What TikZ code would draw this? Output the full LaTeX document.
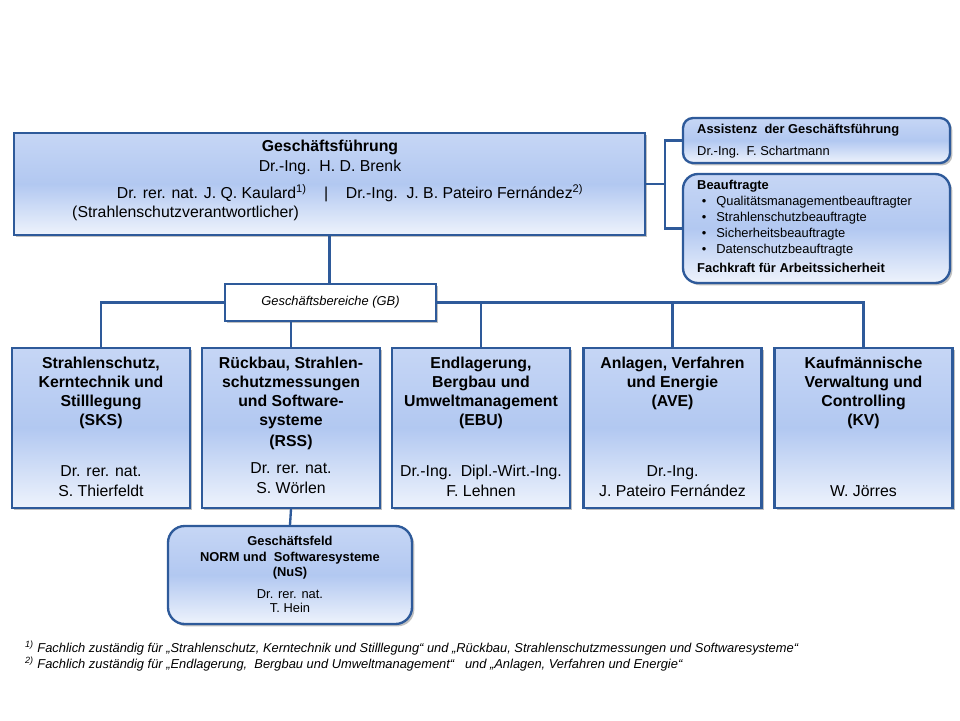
\documentclass[tikz,border=0pt]{standalone}
\usepackage{fontspec}
\setmainfont{Liberation Sans}
\usetikzlibrary{positioning, shadows}

\definecolor{gfline}{HTML}{2E5A9A}
\definecolor{gftop}{HTML}{C6D6F5}
\definecolor{gfmid}{HTML}{B2C8F1}
\definecolor{gfbot}{HTML}{EEF3FC}

\begin{document}
\begin{tikzpicture}[x=0.03cm, y=-0.03cm]
	\tikzset{box/.style={draw=gfline, line width=2pt, top color=gftop, bottom color=gfbot, middle color=gfmid,
			drop shadow={shadow xshift=2pt, shadow yshift=-2pt, fill=black!45, opacity=.55}, inner sep=0pt},
		unit/.style={box, minimum width=5.34cm, minimum height=4.8cm},
		link/.style={draw=gfline, line width=2pt},
		title/.style={anchor=north, align=center, inner sep=0pt, font=\bfseries\fontsize{13.5}{16.2}\selectfont},
		names/.style={anchor=north, align=center, inner sep=0pt, font=\fontsize{13.5}{17}\selectfont},
		small/.style={inner sep=0pt, align=left, font=\fontsize{11}{13.6}\selectfont} }

	\useasboundingbox (0,0) rectangle (960,720);

	% Geschaeftsfuehrung
	\node[box, minimum width=18.93cm, minimum height=3.06cm] (gf) at (329.5,184) {};
	\node[title, anchor=center] (gf-title) at (330,147) {Geschäftsführung};
	\node[names, anchor=center] (gf-head) at (330,167) {Dr.-Ing.~~H. D. Brenk};
	\node[names, anchor=center] (gf-deputy) at (350,193) {Dr. rer. nat. J. Q. Kaulard\textsuperscript{1)}~~~~|~~~~Dr.-Ing.~~J. B. Pateiro Fernández\textsuperscript{2)}};
	\node[names, anchor=west] (gf-note) at (72,213) {(Strahlenschutzverantwortlicher)};

	\node[box, rounded corners=0.3cm, minimum width=8.01cm, minimum height=1.35cm] (assist) at (816.5,140.5) {};
	\node[small, anchor=west] (assist-title) at (697,130) {\textbf{Assistenz~~der Geschäftsführung}};
	\node[small, anchor=west] (assist-name) at (697,152) {Dr.-Ing.~~F. Schartmann};

	\node[box, rounded corners=0.45cm, minimum width=8.01cm, minimum height=3.27cm] (beauf) at (816.5,228.5) {};
	\node[small, anchor=north west] (beauf-list) at (697,180) {\textbf{Beauftragte}\\
		\hspace*{4pt}\textbullet\hspace{8.5pt}Qualitätsmanagementbeauftragter\\
		\hspace*{4pt}\textbullet\hspace{8.5pt}Strahlenschutzbeauftragte\\
		\hspace*{4pt}\textbullet\hspace{8.5pt}Sicherheitsbeauftragte\\
		\hspace*{4pt}\textbullet\hspace{8.5pt}Datenschutzbeauftragte\\[3pt]
		\textbf{Fachkraft für Arbeitssicherheit}};

	\coordinate (hub) at (665,184);
	\draw[link] (gf.east) -- (hub);
	\draw[link] (assist.west) -| (hub) |- (beauf.west);

	% Geschaeftsbereiche
	\node[box, fill=white, top color=white, bottom color=white, middle color=white, minimum width=6.33cm, minimum height=1.11cm] (gb) at (330.5,302.5) {};
	\node[inner sep=0pt, font=\itshape\fontsize{11}{12}\selectfont] (gb-text) at (330.5,302.5) {Geschäftsbereiche (GB)};
	\draw[link] (gf.south) -- (gf.south |- gb.north);

	\node[unit] (sks) at (101,428) {};
	\node[unit] (rss) at (291,428) {};
	\node[unit] (ebu) at (481,428) {};
	\node[unit] (ave) at (672.5,428) {};
	\node[unit] (kv) at (863.5,428) {};

	\draw[link] (gb.west) -| (sks.north);
	\draw[link] (gb.east) -| (kv.north);
	\draw[link] (rss.north |- gb.south) -- (rss.north);
	\draw[link] (ebu.north) -- (ebu.north |- gb.east);
	\draw[link] (ave.north) -- (ave.north |- gb.east);

	\node[title] (sks-title) at (101,357) {Strahlenschutz,\\Kerntechnik und\\Stilllegung\\(SKS)};
	\node[names] (sks-name) at (101,465) {Dr. rer. nat.\\S. Thierfeldt};
	\node[title] (rss-title) at (291,357) {Rückbau, Strahlen-\\schutzmessungen\\und Software-\\systeme\\[1.5pt](RSS)};
	\node[names] (rss-name) at (291,462) {Dr. rer. nat.\\S. Wörlen};
	\node[title] (ebu-title) at (481,357) {Endlagerung,\\Bergbau und\\Umweltmanagement\\(EBU)};
	\node[names] (ebu-name) at (481,465) {Dr.-Ing.~~Dipl.-Wirt.-Ing.\\F. Lehnen};
	\node[title] (ave-title) at (672.5,357) {Anlagen, Verfahren\\und Energie\\(AVE)};
	\node[names] (ave-name) at (672.5,465) {Dr.-Ing.\\J. Pateiro Fernández};
	\node[title] (kv-title) at (863.5,357) {Kaufmännische\\Verwaltung und\\Controlling\\(KV)};
	\node[names] (kv-name) at (863.5,485) {W. Jörres};

	% Geschaeftsfeld
	\node[box, rounded corners=0.5cm, minimum width=7.32cm, minimum height=2.94cm] (nus) at (290,575) {};
	\draw[link] (rss.south) -- (nus.north);
	\node[title, font=\bfseries\fontsize{11}{13.4}\selectfont] (nus-title) at (290,536) {Geschäftsfeld\\NORM und~~Softwaresysteme\\(NuS)};
	\node[names, font=\fontsize{11}{12.2}\selectfont] (nus-name) at (290,589) {Dr. rer. nat.\\T. Hein};

	\node[inner sep=0pt, anchor=west, align=left, font=\itshape\fontsize{11}{13.6}\selectfont] (notes) at (25,656)
		{\textsuperscript{1)} Fachlich zuständig für „Strahlenschutz, Kerntechnik und Stilllegung“ und „Rückbau, Strahlenschutzmessungen und Softwaresysteme“\\
		\textsuperscript{2)} Fachlich zuständig für „Endlagerung,~~Bergbau und Umweltmanagement“~~~und „Anlagen, Verfahren und Energie“};
\end{tikzpicture}
\end{document}
